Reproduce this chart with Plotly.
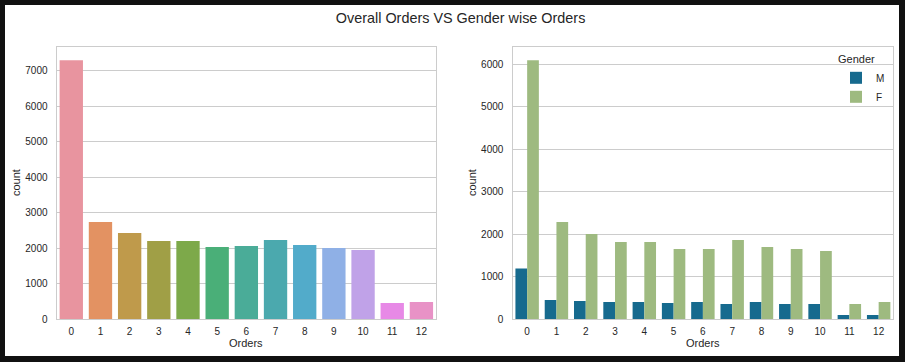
import plotly.graph_objects as go

W, H = 905, 362

orders = list(range(13))
order_labels = [str(o) for o in orders]
overall_counts = [7302, 2735, 2428, 2200, 2200, 2030, 2058, 2227, 2086, 2002, 1945, 451, 479]
male_counts = [1191, 448, 425, 401, 401, 377, 401, 354, 401, 354, 354, 94, 94]
female_counts = [6097, 2288, 2005, 1816, 1816, 1651, 1651, 1863, 1698, 1651, 1604, 354, 401]
gender_names = ["M", "F"]

bar_palette = ["#E8949F", "#E39262", "#BF9A4B", "#A09F46", "#7DA94A", "#4AAF78", "#4AAC98",
               "#4BA9AE", "#52ABCA", "#8FB0E6", "#C0A2E8", "#E789E6", "#E892C6"]
gender_colors = ["#166A8E", "#9EBA80"]

TXT = "#262626"
GRID = "#cccccc"
FONT = "Liberation Sans, Arial, sans-serif"


def px_x(p):
    return p / W


def px_y(p):
    return 1 - p / H


fig = go.Figure()

fig.add_trace(go.Bar(x=orders, y=overall_counts, marker=dict(color=bar_palette, line=dict(width=0)),
                     width=0.8, showlegend=False, xaxis="x", yaxis="y"))

for name, vals, col in zip(gender_names, [male_counts, female_counts], gender_colors):
    fig.add_trace(go.Bar(x=orders, y=vals, name=name, marker=dict(color=col, line=dict(width=0)),
                         xaxis="x2", yaxis="y2"))

axis_common = dict(showline=True, mirror=True, linecolor=GRID, linewidth=1.3, zeroline=False,
                   tickfont=dict(size=10, color=TXT, family=FONT))

ydom = [px_y(319), px_y(47.3)]

fig.update_layout(
    width=W, height=H,
    margin=dict(l=0, r=0, t=0, b=0, autoexpand=False),
    paper_bgcolor="#111111",
    plot_bgcolor="white",
    barmode="group", bargap=0.2, bargroupgap=0,
    font=dict(family=FONT, color=TXT),
    title=dict(text="Overall Orders VS Gender wise Orders", x=px_x(460.6), xanchor="center",
               y=px_y(18), yanchor="middle", xref="container", yref="container",
               font=dict(size=14.4, color=TXT, family=FONT)),
    xaxis=dict(domain=[px_x(56.7), px_x(436)], range=[-0.5, 12.5], tickvals=orders, ticktext=order_labels,
               showgrid=False, ticks="outside", ticklen=3, tickcolor="rgba(0,0,0,0)", anchor="y",
               **axis_common),
    yaxis=dict(domain=ydom, range=[0, 7665], dtick=1000, showgrid=True, gridcolor=GRID, gridwidth=1,
               ticks="outside", ticklen=6, tickcolor="rgba(0,0,0,0)", anchor="x", **axis_common),
    xaxis2=dict(domain=[px_x(512.5), px_x(893.3)], range=[-0.5, 12.5], tickvals=orders, ticktext=order_labels,
                showgrid=False, ticks="outside", ticklen=3, tickcolor="rgba(0,0,0,0)", anchor="y2",
                **axis_common),
    yaxis2=dict(domain=ydom, range=[0, 6402], dtick=1000, showgrid=True, gridcolor=GRID, gridwidth=1,
                ticks="outside", ticklen=6, tickcolor="rgba(0,0,0,0)", anchor="x2", **axis_common),
    legend=dict(title=dict(text="Gender", font=dict(size=11, color=TXT, family=FONT)),
                x=px_x(836), xanchor="left", y=px_y(49), yanchor="top",
                bgcolor="rgba(255,255,255,0)", borderwidth=0, itemwidth=30,
                font=dict(size=10, color=TXT, family=FONT), tracegroupgap=0),
    shapes=[dict(type="rect", xref="paper", yref="paper", x0=px_x(5), x1=px_x(899), y0=px_y(356), y1=px_y(5),
                 fillcolor="white", line=dict(width=0), layer="below")],
    annotations=[
        dict(text="count", x=px_x(16), y=px_y(183), xref="paper", yref="paper", textangle=-90,
             showarrow=False, font=dict(size=11, color=TXT, family=FONT), xanchor="center", yanchor="middle"),
        dict(text="count", x=px_x(472), y=px_y(183), xref="paper", yref="paper", textangle=-90,
             showarrow=False, font=dict(size=11, color=TXT, family=FONT), xanchor="center", yanchor="middle"),
        dict(text="Orders", x=px_x(246.3), y=px_y(342.7), xref="paper", yref="paper",
             showarrow=False, font=dict(size=11, color=TXT, family=FONT), xanchor="center", yanchor="middle"),
        dict(text="Orders", x=px_x(702.9), y=px_y(342.7), xref="paper", yref="paper",
             showarrow=False, font=dict(size=11, color=TXT, family=FONT), xanchor="center", yanchor="middle"),
    ],
)

fig.write_html(
    "out.html",
    config={"displayModeBar": False},
    post_script="document.body.style.margin='0';document.body.style.padding='0';"
                "document.body.style.background='#111111';document.body.style.overflow='hidden';",
)
